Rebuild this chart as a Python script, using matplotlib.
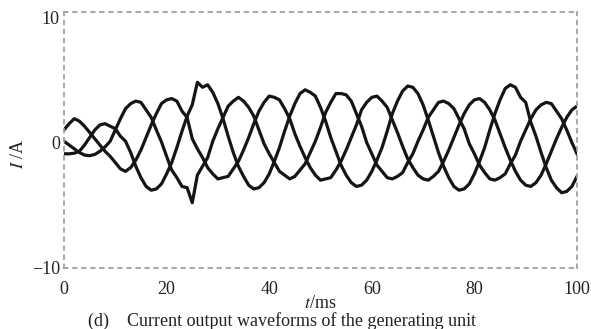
import matplotlib
matplotlib.use("Agg")
import matplotlib.pyplot as plt

t_ms = list(range(0, 101))

phase_a = [0.1, -0.2, -0.5, -0.8, -1.0, -1.05, -0.95, -0.7, -0.35, 0.1,
           1.0, 1.9, 2.7, 3.1, 3.3, 3.2, 2.6, 2.0, 1.0, 0.05,
           -1.1, -2.2, -2.8, -3.5, -3.6, -4.8, -2.6, -1.9, -1.2, 0.1,
           1.1, 2.0, 2.9, 3.3, 3.6, 3.3, 2.8, 2.1, 1.0, -0.1,
           -0.9, -1.6, -2.3, -2.6, -2.9, -2.7, -2.2, -1.7, -0.8, 0.1,
           1.2, 2.4, 3.2, 3.9, 3.9, 3.8, 3.3, 2.3, 1.3, 0.0,
           -0.9, -1.8, -2.3, -2.8, -2.9, -2.7, -2.4, -1.6, -0.9, 0.1,
           1.0, 2.0, 2.6, 3.2, 3.3, 3.1, 2.7, 1.9, 1.1, -0.1,
           -0.9, -1.8, -2.4, -2.9, -3.0, -2.8, -2.5, -1.7, -1.0, 0.1,
           1.0, 1.9, 2.6, 3.0, 3.2, 3.1, 2.5, 1.9, 1.0, 0.0,
           -0.9]

phase_b = [1.0, 1.5, 1.9, 1.7, 1.3, 0.8, 0.3, -0.2, -0.7, -1.1,
           -1.6, -2.1, -2.3, -2.0, -1.4, -0.6, 0.4, 1.4, 2.3, 3.1,
           3.4, 3.5, 3.3, 2.5, 2.0, 0.3, -0.5, -1.2, -2.0, -2.5,
           -2.9, -2.8, -2.7, -2.1, -1.5, -0.6, 0.4, 1.5, 2.5, 3.2,
           3.7, 3.6, 3.4, 2.7, 1.9, 0.7, -0.3, -1.2, -2.0, -2.6,
           -3.0, -2.9, -2.8, -2.2, -1.5, -0.6, 0.4, 1.4, 2.6, 3.2,
           3.6, 3.7, 3.3, 2.8, 1.8, 0.8, -0.3, -1.3, -2.0, -2.6,
           -2.9, -3.0, -2.7, -2.3, -1.5, -0.6, 0.4, 1.4, 2.3, 3.0,
           3.4, 3.5, 3.2, 2.6, 1.8, 0.7, -0.4, -1.4, -2.3, -3.0,
           -3.4, -3.5, -3.2, -2.6, -1.7, -0.7, 0.3, 1.2, 2.0, 2.6,
           2.9]

phase_c = [-0.9, -0.9, -0.85, -0.7, -0.2, 0.4, 1.0, 1.4, 1.5, 1.3,
           1.1, 0.5, 0.1, -0.8, -1.9, -2.8, -3.5, -3.8, -3.7, -3.3,
           -2.5, -1.6, -0.4, 0.9, 2.1, 3.0, 4.8, 4.4, 4.6, 4.0,
           3.1, 1.9, 0.5, -0.8, -1.9, -2.7, -3.4, -3.7, -3.6, -3.2,
           -2.5, -1.5, -0.4, 0.9, 2.1, 3.1, 3.9, 4.2, 4.0, 3.7,
           2.8, 1.7, 0.4, -0.7, -1.8, -2.6, -3.2, -3.5, -3.4, -3.0,
           -2.3, -1.4, -0.4, 0.9, 2.3, 3.3, 4.1, 4.5, 4.4, 3.9,
           3.0, 1.8, 0.5, -0.8, -1.9, -2.8, -3.5, -3.8, -3.7, -3.3,
           -2.5, -1.5, -0.4, 1.0, 2.3, 3.4, 4.3, 4.6, 4.4, 3.6,
           3.2, 1.6, 0.5, -0.8, -2.0, -3.0, -3.6, -4.0, -3.9, -3.5,
           -2.7]

x_ticks = [0, 20, 40, 60, 80, 100]
y_ticks = [-10, 0, 10]
y_tick_labels = ["\u221210", "0", "10"]

plt.rcParams['font.family'] = ['Liberation Serif', 'DejaVu Serif']
plt.rcParams['mathtext.fontset'] = 'stix'

fig = plt.figure(figsize=(5.91, 3.29), dpi=100)
ax = fig.add_axes([64/591, 1-268/329, (577-64)/591, (268-12)/329])

for series in (phase_a, phase_b, phase_c):
    ax.plot(t_ms, series, color='#151515', lw=2.3, solid_joinstyle='round')

ax.set_xlim(0, 100)
ax.set_ylim(-10, 10.4)
ax.set_xticks(x_ticks)
ax.set_xticklabels([str(v) for v in x_ticks])
ax.set_yticks(y_ticks)
ax.set_yticklabels(y_tick_labels)
ax.tick_params(axis='both', length=0, labelsize=13, colors='#222222')
ax.tick_params(axis='x', pad=9)
ax.tick_params(axis='y', pad=3)

for sp in ax.spines.values():
    sp.set_color('#a0a0a0')
    sp.set_linestyle((0, (2, 3)))
    sp.set_linewidth(1.3)

ax.set_xlabel(r'$t$/ms', fontsize=13, color='#222222')
ax.xaxis.set_label_coords(0.5, -0.105)
ax.xaxis.label.set_verticalalignment('top')
ax.set_ylabel(r'$I$ /A', fontsize=13, color='#222222')
ax.yaxis.set_label_coords(-0.072, 0.445)

fig.text(88/591, 1-321/329, "(d)    Current output waveforms of the generating unit",
         fontsize=13, color='#222222', ha='left', va='center')

fig.savefig('out.png', dpi=100, facecolor='white')
